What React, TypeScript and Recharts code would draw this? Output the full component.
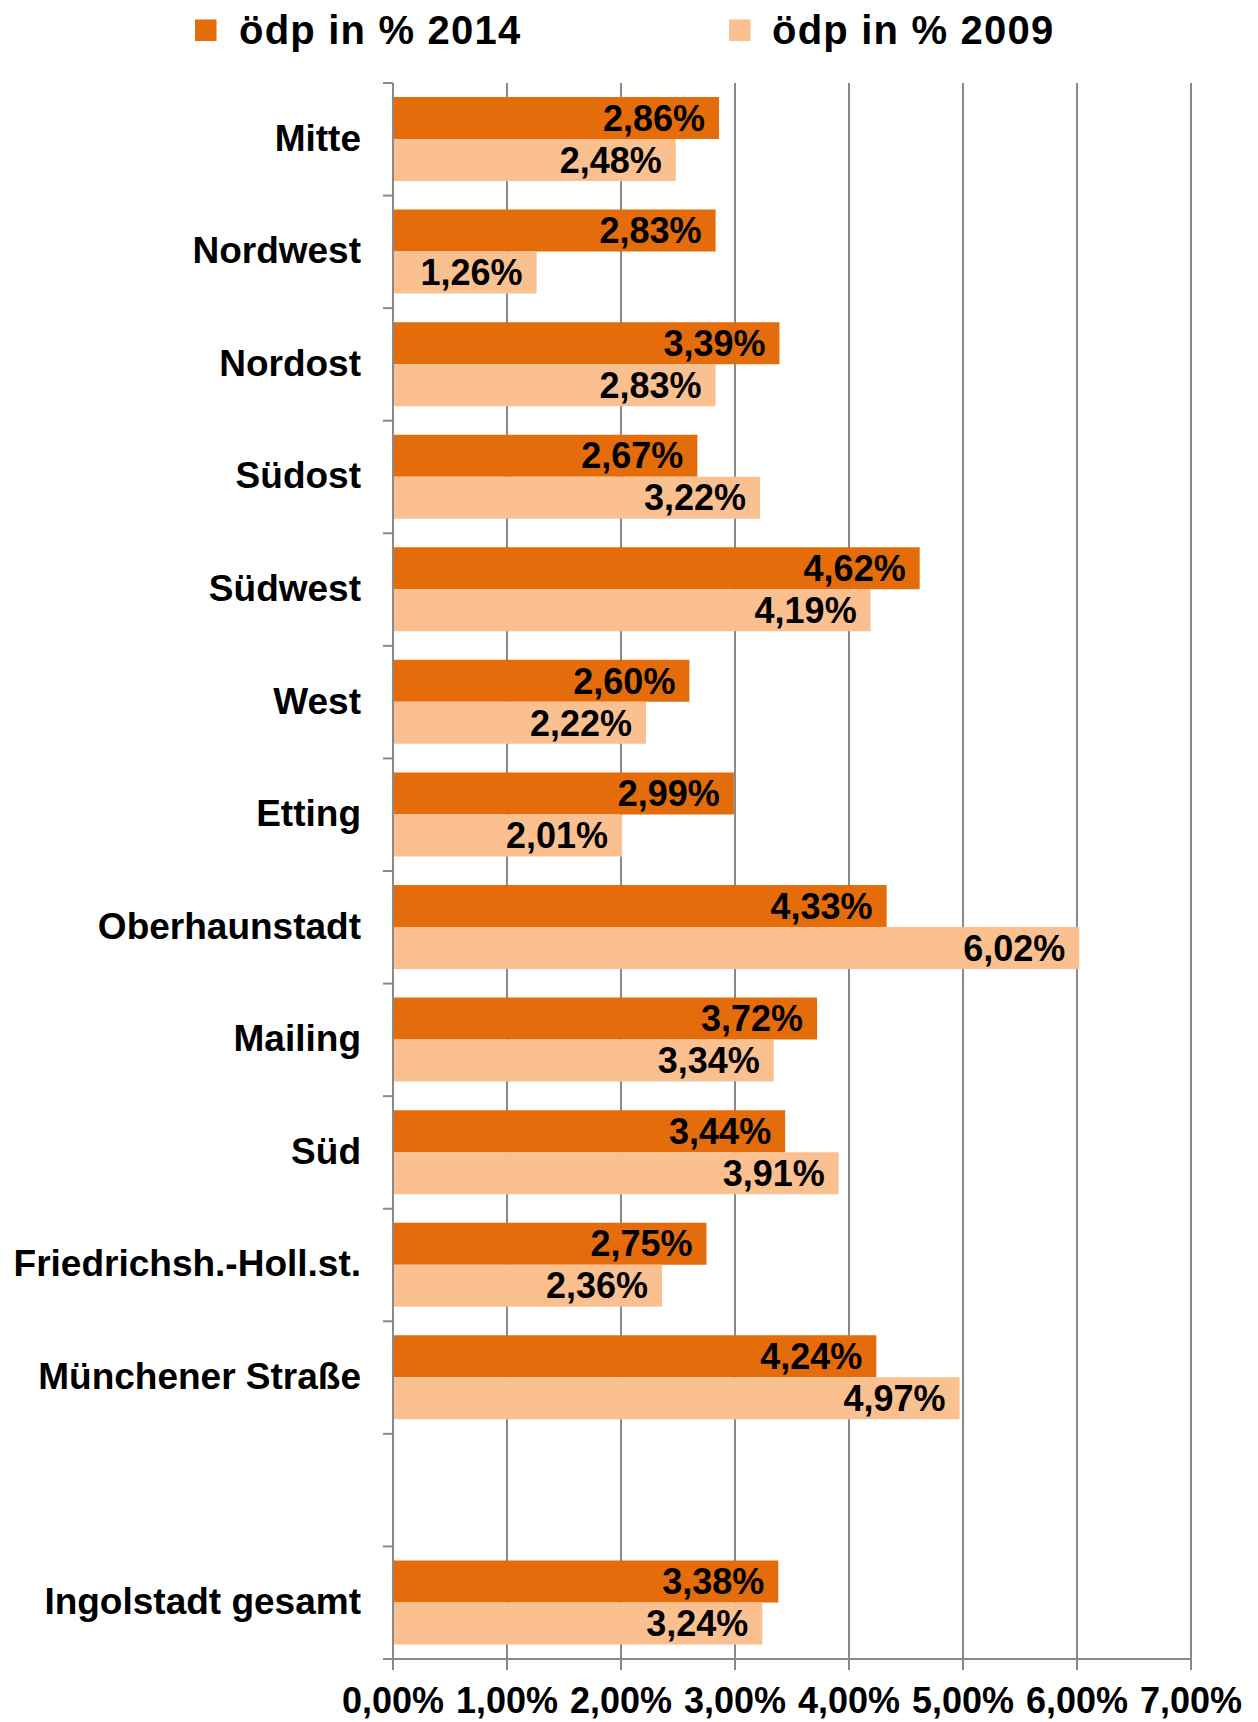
import React from "react";
import {
  Bar,
  BarChart,
  CartesianGrid,
  LabelList,
  Legend,
  XAxis,
  YAxis,
} from "recharts";

const categories = [
  "Mitte",
  "Nordwest",
  "Nordost",
  "Südost",
  "Südwest",
  "West",
  "Etting",
  "Oberhaunstadt",
  "Mailing",
  "Süd",
  "Friedrichsh.-Holl.st.",
  "Münchener Straße",
  "",
  "Ingolstadt gesamt",
];
const values2014 = [2.86, 2.83, 3.39, 2.67, 4.62, 2.6, 2.99, 4.33, 3.72, 3.44, 2.75, 4.24, null, 3.38];
const values2009 = [2.48, 1.26, 2.83, 3.22, 4.19, 2.22, 2.01, 6.02, 3.34, 3.91, 2.36, 4.97, null, 3.24];
const xTicks = [0, 1, 2, 3, 4, 5, 6, 7];
const seriesNames = ["ödp in % 2014", "ödp in % 2009"];

const W = 1258;
const H = 1722;
const TOP = 83;
const XAXIS_H = 63;
const YAXIS_W = 393;
const RIGHT = 67;
const BAND = (H - TOP - XAXIS_H) / categories.length;

const ORANGE = "#E46C0A";
const PEACH = "#FAC090";
const GREY = "#898989";
const FONT = "'Liberation Sans', Arial, Helvetica, sans-serif";

const pct = (v: number | null | undefined) =>
  v == null ? "" : `${Number(v).toFixed(2).replace(".", ",")}%`;

const data = categories.map((name, i) => ({
  name,
  v2014: values2014[i],
  v2009: values2009[i],
}));

function CategoryTick(props: any) {
  const { x, y, payload, index } = props;
  const half = BAND / 2;
  return (
    <g>
      <line x1={x - 10} x2={x} y1={y - half} y2={y - half} stroke={GREY} strokeWidth={2} />
      {index === categories.length - 1 && (
        <line x1={x - 10} x2={x} y1={y + half} y2={y + half} stroke={GREY} strokeWidth={2} />
      )}
      <text
        x={x - 32}
        y={y}
        dy="0.31em"
        textAnchor="end"
        fontFamily={FONT}
        fontWeight="bold"
        fontSize={37}
        fill="#000"
      >
        {payload.value}
      </text>
    </g>
  );
}

function TopLegend() {
  const items = [
    { name: seriesNames[0], color: ORANGE, sq: 195, tx: 239 },
    { name: seriesNames[1], color: PEACH, sq: 729, tx: 772 },
  ];
  return (
    <svg width={W} height={62} style={{ display: "block" }}>
      {items.map((it) => (
        <g key={it.name}>
          <rect x={it.sq} y={19.5} width={21.5} height={21.5} fill={it.color} />
          <text
            x={it.tx}
            y={43.5}
            fontFamily={FONT}
            fontWeight="bold"
            fontSize={40}
            letterSpacing={1.2}
            fill="#000"
          >
            {it.name}
          </text>
        </g>
      ))}
    </svg>
  );
}

export default function App() {
  return (
    <div style={{ position: "absolute", left: 0, top: 0, width: W, height: H, background: "#fff" }}>
      <BarChart
        width={W}
        height={H}
        data={data}
        layout="vertical"
        margin={{ top: TOP, right: RIGHT, bottom: 0, left: 0 }}
        barGap={0}
        barSize={42}
      >
        <CartesianGrid horizontal={false} stroke={GREY} strokeWidth={2} />
        <XAxis
          type="number"
          domain={[0, 7]}
          ticks={xTicks}
          interval={0}
          height={XAXIS_H}
          tickFormatter={(v) => pct(v)}
          axisLine={{ stroke: GREY, strokeWidth: 2 }}
          tickLine={{ stroke: GREY, strokeWidth: 2 }}
          tickSize={11}
          tickMargin={17}
          tick={{ fill: "#000", fontSize: 36, fontWeight: "bold", fontFamily: FONT }}
        />
        <YAxis
          type="category"
          dataKey="name"
          width={YAXIS_W}
          interval={0}
          tickSize={0}
          tickMargin={0}
          tickLine={false}
          axisLine={{ stroke: GREY, strokeWidth: 2 }}
          tick={<CategoryTick />}
        />
        <Legend
          verticalAlign="middle"
          align="center"
          layout="horizontal"
          wrapperStyle={{ top: 0, left: 0, width: W, height: 62 }}
          content={() => <TopLegend />}
        />
        <Bar dataKey="v2014" name={seriesNames[0]} fill={ORANGE} isAnimationActive={false}>
          <LabelList
            dataKey="v2014"
            position="insideRight"
            offset={14}
            formatter={(v: any) => pct(v)}
            fill="#000"
            fontSize={36}
            fontWeight="bold"
            fontFamily={FONT}
          />
        </Bar>
        <Bar dataKey="v2009" name={seriesNames[1]} fill={PEACH} isAnimationActive={false}>
          <LabelList
            dataKey="v2009"
            position="insideRight"
            offset={14}
            formatter={(v: any) => pct(v)}
            fill="#000"
            fontSize={36}
            fontWeight="bold"
            fontFamily={FONT}
          />
        </Bar>
      </BarChart>
    </div>
  );
}
